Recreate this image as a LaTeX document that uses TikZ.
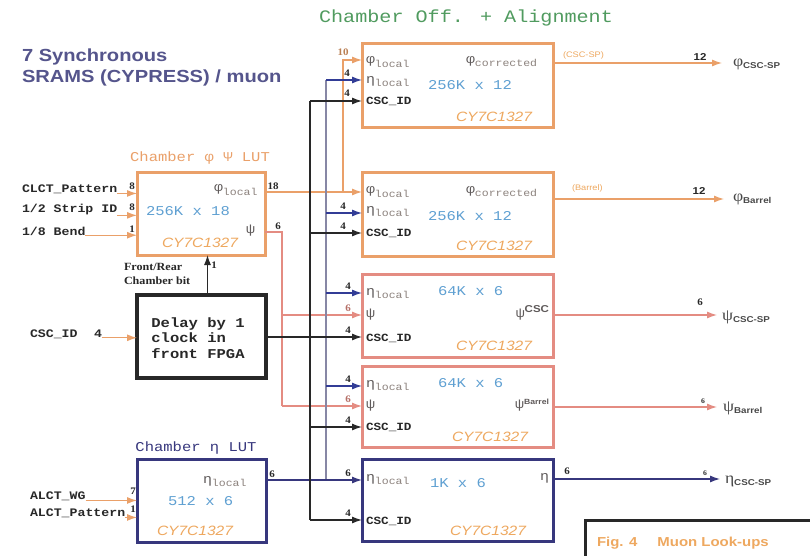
\documentclass[tikz,border=0pt]{standalone}
\usepackage{fontspec}
\setmainfont{Liberation Serif}
\newfontfamily\monof[FakeStretch=1.15]{Liberation Mono}
\newfontfamily\sansf[FakeStretch=1.15]{Liberation Sans}
\newfontfamily\serff[FakeStretch=1.1]{Liberation Serif}
\usetikzlibrary{arrows.meta}
\definecolor{orng}{RGB}{234,160,105}
\definecolor{orngT}{RGB}{238,168,95}
\definecolor{pnk}{RGB}{228,140,130}
\definecolor{navy}{RGB}{55,55,125}
\definecolor{bluA}{RGB}{50,60,150}
\definecolor{bluT}{RGB}{95,160,210}
\definecolor{grT}{RGB}{95,90,90}
\definecolor{subT}{RGB}{140,130,125}
\definecolor{grnT}{RGB}{80,155,95}
\definecolor{ttl}{RGB}{85,85,140}
\definecolor{busC}{RGB}{135,135,165}
\definecolor{dk}{RGB}{40,40,40}
\newcommand\gs[2]{#1\raisebox{-0.45ex}{\textcolor{subT}{\fontsize{10}{10}\selectfont #2}}}
\newcommand\os[2]{{\serff\fontsize{16}{16}\selectfont #1}\raisebox{-0.6ex}{\sansf\bfseries\fontsize{8.5}{8.5}\selectfont #2}}
\begin{document}
\begin{tikzpicture}[x=1pt,y=-1pt,
  every node/.style={inner sep=0pt, outer sep=0pt},
  boxO/.style={draw=orng, line width=3pt, anchor=north west, minimum width=191pt, minimum height=84pt},
  boxP/.style={draw=pnk, line width=3pt, anchor=north west, minimum width=191pt},
  boxN/.style={draw=navy, line width=3pt, anchor=north west, minimum width=191pt, minimum height=82pt},
  lutO/.style={draw=orng, line width=3pt, anchor=north west, minimum width=128pt, minimum height=83pt},
  lutN/.style={draw=navy, line width=3pt, anchor=north west, minimum width=129pt, minimum height=83pt},
  dlyK/.style={draw=dk, line width=3.5pt, anchor=north west, minimum width=129pt, minimum height=83pt},
  gtx/.style={font=\monof\fontsize{13}{13}\selectfont, text=grT, anchor=west},
  szt/.style={font=\monof\fontsize{13.5}{13.5}\selectfont, text=bluT, anchor=west},
  cst/.style={font=\monof\bfseries\fontsize{11}{11}\selectfont, text=dk, anchor=west},
  cyt/.style={font=\sansf\itshape\fontsize{13.5}{13.5}\selectfont, text=orngT},
  inl/.style={font=\monof\bfseries\fontsize{11.5}{11.5}\selectfont, text=dk, anchor=west},
  bit/.style={font=\serff\bfseries\fontsize{10}{10}\selectfont, text=dk},
  olbl/.style={text=dk!85, anchor=west},
  tag/.style={font=\sansf\fontsize{8}{8}\selectfont, text=orngT, anchor=west},
  wO/.style={draw=orng, line width=1.2pt},
  wP/.style={draw=pnk, line width=1.2pt},
  wN/.style={draw=navy, line width=1.2pt},
  wK/.style={draw=dk, line width=1.2pt},
  wB/.style={draw=bluA, line width=1.2pt},
  wBus/.style={draw=busC, line width=1.6pt},
  arr/.style={-{Latex[length=10pt,width=7pt]}}
]
\useasboundingbox[fill=white] (0,0) rectangle (810,556);

% titles
\node[font=\monof\fontsize{17.5}{17.5}\selectfont, text=grnT] (title) at (466,18) {Chamber Off. + Alignment};
\node[font=\sansf\bfseries\fontsize{17.5}{17.5}\selectfont, text=ttl, anchor=west] (ts1) at (22,57) {7 Synchronous};
\node[font=\sansf\bfseries\fontsize{17.5}{17.5}\selectfont, text=ttl, anchor=west] (ts2) at (22,78) {SRAMS (CYPRESS) / muon};

% boxes
\node[boxO] (b1) at (362,44) {};
\node[boxO] (b2) at (362,172) {};
\node[boxP, minimum height=83pt] (b3) at (362,274) {};
\node[boxP, minimum height=81pt] (b4) at (362,366) {};
\node[boxN] (b5) at (362,459) {};
\node[lutO] (lut1) at (137,172) {};
\node[dlyK] (delay) at (137,295) {};
\node[lutN] (lut2) at (137,459) {};

% LUT titles
\node[font=\monof\fontsize{13.5}{13.5}\selectfont, text=orng] (lt1) at (200,158) {Chamber φ Ψ LUT};
\node[font=\monof\fontsize{13.5}{13.5}\selectfont, text=navy] (lt2) at (196,448) {Chamber η LUT};

% box 1 text
\node[gtx] (b1t1) at (366,62) {\gs{φ}{local}};
\node[gtx] (b1t2) at (466,62) {\gs{φ}{corrected}};
\node[gtx] (b1t3) at (366,82) {\gs{η}{local}};
\node[szt] (b1t4) at (428,85) {256K x 12};
\node[cst] (b1t5) at (366,101) {CSC\_ID};
\node[cyt] (b1t6) at (494,117) {CY7C1327};
% box 2 text
\node[gtx] (b2t1) at (366,192) {\gs{φ}{local}};
\node[gtx] (b2t2) at (466,192) {\gs{φ}{corrected}};
\node[gtx] (b2t3) at (366,212) {\gs{η}{local}};
\node[szt] (b2t4) at (428,216) {256K x 12};
\node[cst] (b2t5) at (366,233) {CSC\_ID};
\node[cyt] (b2t6) at (494,246) {CY7C1327};
% box 3 text
\node[gtx] (b3t1) at (366,294) {\gs{η}{local}};
\node[szt] (b3t2) at (438,291) {64K x 6};
\node[gtx] (b3t3) at (366,315) {ψ};
\node[gtx, anchor=east] (b3t4) at (549,313) {ψ\raisebox{0.7ex}{\sansf\bfseries\fontsize{10}{10}\selectfont CSC}};
\node[cst] (b3t5) at (366,338) {CSC\_ID};
\node[cyt] (b3t6) at (494,346) {CY7C1327};
% box 4 text
\node[gtx] (b4t1) at (366,386) {\gs{η}{local}};
\node[szt] (b4t2) at (438,383) {64K x 6};
\node[gtx] (b4t3) at (366,406) {ψ};
\node[gtx, anchor=east] (b4t4) at (549,405) {ψ\raisebox{0.5ex}{\sansf\bfseries\fontsize{7.5}{7.5}\selectfont Barrel}};
\node[cst] (b4t5) at (366,427) {CSC\_ID};
\node[cyt] (b4t6) at (490,437) {CY7C1327};
% box 5 text
\node[gtx] (b5t1) at (366,480) {\gs{η}{local}};
\node[szt] (b5t2) at (430,483) {1K x 6};
\node[gtx, anchor=east] (b5t3) at (549,478) {η};
\node[cst] (b5t4) at (366,521) {CSC\_ID};
\node[cyt] (b5t5) at (488,531) {CY7C1327};
% LUT 1 text
\node[gtx] (l1t1) at (214,190) {\gs{φ}{local}};
\node[szt] (l1t2) at (146,211) {256K x 18};
\node[gtx] (l1t3) at (246,231) {ψ};
\node[cyt] (l1t4) at (200,243) {CY7C1327};
% LUT 2 text
\node[gtx] (l2t1) at (203,482) {\gs{η}{local}};
\node[szt] (l2t2) at (168,501) {512 x 6};
\node[cyt] (l2t3) at (195,531) {CY7C1327};
% delay text
\node[font=\monof\bfseries\fontsize{13.5}{15.5}\selectfont, text=dk, align=left] (dtxt) at (198,338) {Delay by 1\\clock in\\front FPGA};

% LUT 1 inputs
\node[inl] (iclct) at (22,189) {CLCT\_Pattern};
\node[inl] (istrip) at (22,210) {1/2 Strip ID};
\node[inl] (ibend) at (22,231) {1/8 Bend};
\draw[wO,arr] (iclct.south east) -- (iclct.south east -| lut1.west);
\draw[wO,arr] (istrip.south east) -- (istrip.south east -| lut1.west);
\draw[wO,arr] (ibend.south east) -- (ibend.south east -| lut1.west);
\node[bit] (n1) at (132,186) {8};
\node[bit] (n2) at (132,207) {8};
\node[bit] (n3) at (132,229) {1};

% delay input
\node[inl] (icsc) at (30,334) {CSC\_ID};
\node[inl] (icsc4) at (94,334) {4};
\draw[wO,arr] (icsc4.south east) -- (icsc4.south east -| delay.west);

% LUT 2 inputs
\node[inl] (iwg) at (30,496) {ALCT\_WG};
\node[inl] (ipat) at (30,513) {ALCT\_Pattern};
\draw[wO,arr] (iwg.south east) -- (iwg.south east -| lut2.west);
\draw[wO,arr] (ipat.south east) -- (ipat.south east -| lut2.west);
\node[bit] (n4) at (133,491) {7};
\node[bit] (n5) at (133,509) {1};

% front/rear
\node[font=\serff\bfseries\fontsize{11}{14}\selectfont, text=dk, align=left, anchor=north west] (frl) at (124,263) {Front/Rear\\Chamber bit};
\draw[wK,arr] ([xshift=6pt]delay.north) -- ([xshift=6pt]delay.north |- lut1.south);
\node[bit] (n6) at (214,265) {1};

% ports
\coordinate (b1p1) at (362,60);
\coordinate (b1p2) at (362,80);
\coordinate (b1p3) at (362,101);
\coordinate (b2p1) at (362,192);
\coordinate (b2p2) at (362,213);
\coordinate (b2p3) at (362,233);
\coordinate (b3p1) at (362,293);
\coordinate (b3p2) at (362,315);
\coordinate (b3p3) at (362,337);
\coordinate (b4p1) at (362,386);
\coordinate (b4p2) at (362,406);
\coordinate (b4p3) at (362,427);
\coordinate (b5p1) at (362,480);
\coordinate (b5p2) at (362,520);
\coordinate (phij) at (343,192);
\coordinate (psij) at (282,232);
\coordinate (etaj) at (326,480);
\coordinate (cscj) at (310,337);

% phi bus
\draw[wO,arr] (b2p1 -| lut1.east) -- (b2p1);
\draw[wO,arr] (phij) |- (b1p1);
\node[bit] (n18) at (273,186) {18};
\node[bit, text=orng!80!black] (n10) at (343,52) {10};

% psi bus
\draw[wP] (psij -| lut1.east) -- (psij) -- (psij |- b4p2);
\draw[wP,arr] (psij |- b3p2) -- (b3p2);
\draw[wP,arr] (psij |- b4p2) -- (b4p2);
\node[bit] (n6a) at (278,226) {6};

% eta bus
\draw[wBus] (etaj) -- (etaj |- b1p2);
\draw[wN,arr] (b5p1 -| lut2.east) -- (b5p1);
\draw[wB,arr] (etaj |- b1p2) -- (b1p2);
\draw[wB,arr] (etaj |- b2p2) -- (b2p2);
\draw[wB,arr] (etaj |- b3p1) -- (b3p1);
\draw[wB,arr] (etaj |- b4p1) -- (b4p1);
\node[bit] (n6b) at (272,474) {6};

% csc bus
\draw[wK] (cscj |- b1p3) -- (cscj |- b5p2);
\draw[wK,arr] (b3p3 -| delay.east) -- (b3p3);
\draw[wK,arr] (cscj |- b1p3) -- (b1p3);
\draw[wK,arr] (cscj |- b2p3) -- (b2p3);
\draw[wK,arr] (cscj |- b4p3) -- (b4p3);
\draw[wK,arr] (cscj |- b5p2) -- (b5p2);

% bit labels at box inputs
\node[bit] (k1) at (347,73) {4};
\node[bit] (k2) at (347,93) {4};
\node[bit] (k3) at (343,206) {4};
\node[bit] (k4) at (343,226) {4};
\node[bit] (k5) at (348,286) {4};
\node[bit, text=pnk!80!black] (k6) at (348,308) {6};
\node[bit] (k7) at (348,330) {4};
\node[bit] (k8) at (348,379) {4};
\node[bit, text=pnk!80!black] (k9) at (348,399) {6};
\node[bit] (k10) at (348,420) {4};
\node[bit] (k11) at (348,473) {6};
\node[bit] (k12) at (348,513) {4};

% outputs
\coordinate (o1) at (722,63);
\coordinate (o2) at (724,199);
\coordinate (o3) at (717,315);
\coordinate (o4) at (717,407);
\coordinate (o5) at (720,479);
\draw[wO,arr] (b1.east |- o1) -- (o1);
\draw[wO,arr] (b2.east |- o2) -- (o2);
\draw[wP,arr] (b3.east |- o3) -- (o3);
\draw[wP,arr] (b4.east |- o4) -- (o4);
\draw[wN,arr] (b5.east |- o5) -- (o5);
\node[tag] (tg1) at (563,55) {(CSC-SP)};
\node[tag] (tg2) at (572,188) {(Barrel)};
\node[bit, font=\sansf\bfseries\fontsize{10}{10}\selectfont] (q1) at (700,57) {12};
\node[bit, font=\sansf\bfseries\fontsize{10}{10}\selectfont] (q2) at (699,191) {12};
\node[bit] (q3) at (700,302) {6};
\node[bit, font=\serff\bfseries\fontsize{7}{7}\selectfont] (q4) at (703,401) {6};
\node[bit, font=\serff\bfseries\fontsize{7}{7}\selectfont] (q5) at (705,473) {6};
\node[bit] (q6) at (567,471) {6};
\node[olbl] (out1) at (733,64) {\os{φ}{CSC-SP}};
\node[olbl] (out2) at (733,199) {\os{φ}{Barrel}};
\node[olbl] (out3) at (722,317) {\os{ψ}{CSC-SP}};
\node[olbl] (out4) at (723,408) {\os{ψ}{Barrel}};
\node[olbl] (out5) at (725,481) {\os{η}{CSC-SP}};

% figure caption frame
\coordinate (fc1) at (585,556);
\coordinate (fc2) at (810,520);
\draw[draw=dk, line width=3pt] (fc1) |- (fc2);
\node[font=\sansf\bfseries\fontsize{13}{13}\selectfont, text=orngT, anchor=west] (fig) at (597,543) {Fig. 4\hspace{20pt}Muon Look-ups};
\end{tikzpicture}
\end{document}
